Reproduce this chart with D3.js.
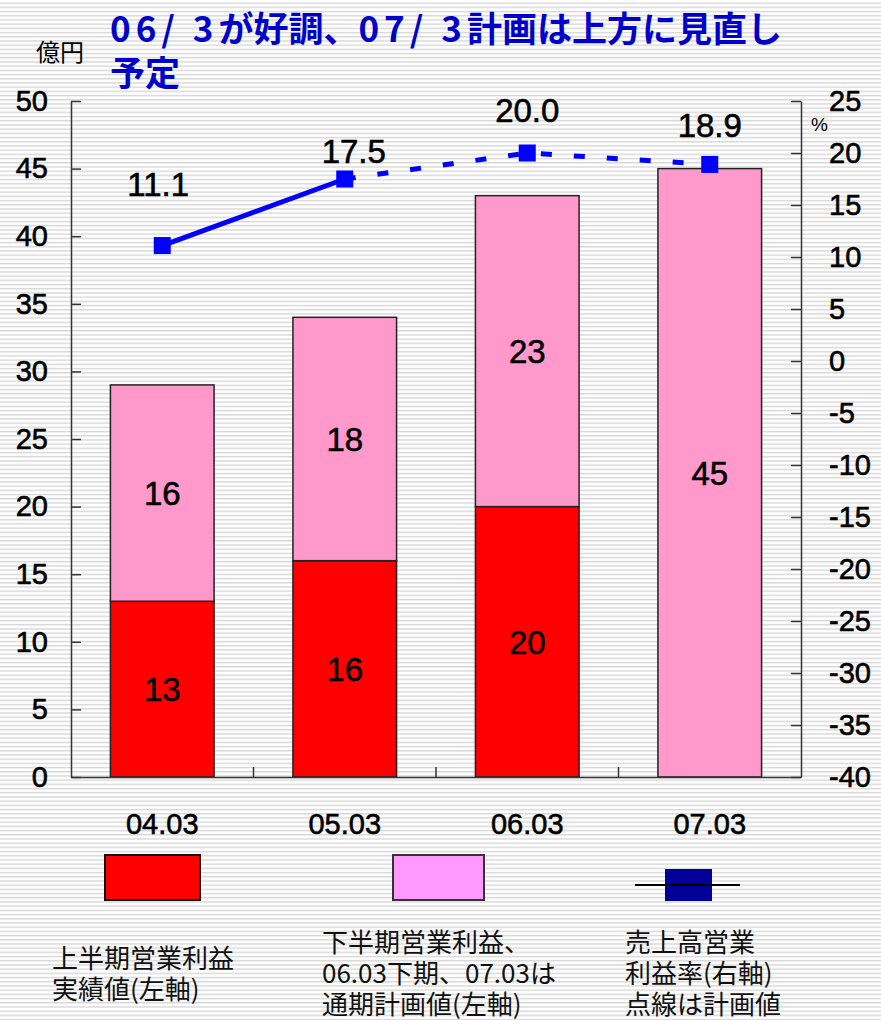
<!DOCTYPE html>
<html>
<head>
<meta charset="utf-8">
<script src="https://cdn.jsdelivr.net/npm/d3@7"></script>
<style>
  html, body { margin: 0; padding: 0; background: #fff; }
  svg { display: block; }
  text { font-family: "Liberation Sans", Arial, "Noto Sans CJK JP", sans-serif; fill: #000; }
  .num { stroke: #000; stroke-width: 0.6px; }
  .jp { font-family: "Noto Sans CJK JP", "Liberation Sans", sans-serif; }
</style>
</head>
<body>
<svg id="chart" width="881" height="1020"></svg>
<script>
// Fiscal periods (March year-end)
const categories = ["04.03", "05.03", "06.03", "07.03"];
// First-half operating profit (億円)
const firstHalf = [13, 16, 20, 0];
// Second-half operating profit; 06.03 second half and 07.03 full-year are plans
const secondHalf = [16, 18, 23, 45];
// Operating margin on sales (%), right axis
const marginRate = [11.1, 17.5, 20.0, 18.9];
const leftTicks = [0, 5, 10, 15, 20, 25, 30, 35, 40, 45, 50];
const rightTicks = [-40, -35, -30, -25, -20, -15, -10, -5, 0, 5, 10, 15, 20, 25];

const legendItems = [
  ["上半期営業利益", "実績値(左軸)"],
  ["下半期営業利益、", "06.03下期、07.03は", "通期計画値(左軸)"],
  ["売上高営業", "利益率(右軸)", "点線は計画値"]
];

const svg = d3.select("#chart");

// striped backdrop
const defs = svg.append("defs");
const pat = defs.append("pattern")
  .attr("id", "stripes").attr("patternUnits", "userSpaceOnUse")
  .attr("width", 8).attr("height", 4.2);
pat.append("rect").attr("width", 8).attr("height", 4.2).attr("fill", "#ffffff");
pat.append("rect").attr("y", 2.4).attr("width", 8).attr("height", 1.5).attr("fill", "#d9d9d9");
svg.append("rect").attr("width", 881).attr("height", 1020).attr("fill", "url(#stripes)");

const plot = { left: 71, right: 801, top: 101, bottom: 777 };

const x = d3.scaleBand().domain(categories)
  .range([plot.left, plot.right]).paddingInner(0.432).paddingOuter(0.216);
const yL = d3.scaleLinear().domain([0, 50]).range([plot.bottom, plot.top]);
const yR = d3.scaleLinear().domain([-40, 25]).range([plot.bottom, plot.top]);

// stacked bars
const rows = categories.map((c, i) => ({ cat: c, first: firstHalf[i], second: secondHalf[i] }));
const stack = d3.stack().keys(["first", "second"])(rows);
const barColors = { first: "#ff0000", second: "#ff99cc" };

stack.forEach(layer => {
  const g = svg.append("g");
  layer.forEach(seg => {
    const h = seg[1] - seg[0];
    if (h <= 0) return;
    g.append("rect")
      .attr("x", x(seg.data.cat)).attr("width", x.bandwidth())
      .attr("y", yL(seg[1])).attr("height", yL(seg[0]) - yL(seg[1]))
      .attr("fill", barColors[layer.key])
      .attr("stroke", "#222").attr("stroke-width", 1.5);
    g.append("text").attr("class", "num")
      .attr("x", x(seg.data.cat) + x.bandwidth() / 2)
      .attr("y", (yL(seg[0]) + yL(seg[1])) / 2)
      .attr("dy", "0.36em")
      .attr("text-anchor", "middle")
      .attr("font-size", 33)
      .text(h);
  });
});

// axes
const axisStyle = g => {
  g.selectAll("path.domain").attr("stroke", "#333").attr("stroke-width", 1.5);
  g.selectAll(".tick line").attr("stroke", "#333").attr("stroke-width", 1.5);
  g.selectAll(".tick text").attr("class", "num").attr("font-size", 29).attr("fill", "#000")
    .attr("font-family", "Liberation Sans, Arial, sans-serif");
};

svg.append("g").attr("transform", `translate(${plot.left},0)`)
  .call(d3.axisLeft(yL).tickValues(leftTicks).tickSizeInner(-10).tickSizeOuter(0).tickPadding(23))
  .call(axisStyle);

svg.append("g").attr("transform", `translate(${plot.right},0)`)
  .call(d3.axisRight(yR).tickValues(rightTicks).tickFormat(d => String(d))
    .tickSizeInner(-10).tickSizeOuter(0).tickPadding(28))
  .call(axisStyle);

svg.append("g").attr("transform", `translate(0,${plot.bottom})`)
  .call(d3.axisBottom(x).tickSize(0).tickPadding(36))
  .call(axisStyle);

// category separators on the baseline
const step = x.step();
categories.slice(1).forEach(c => {
  const bx = x(c) - step * x.paddingInner() / 2;
  svg.append("line").attr("x1", bx).attr("x2", bx)
    .attr("y1", plot.bottom).attr("y2", plot.bottom - 10)
    .attr("stroke", "#333").attr("stroke-width", 1.5);
});

// operating margin line: actuals solid, plans dotted
const pts = categories.map((c, i) => [x(c) + x.bandwidth() / 2, yR(marginRate[i])]);
const line = d3.line();
svg.append("path").attr("d", line(pts.slice(0, 2)))
  .attr("fill", "none").attr("stroke", "#0000ff").attr("stroke-width", 5);
svg.append("path").attr("d", line(pts.slice(1)))
  .attr("fill", "none").attr("stroke", "#0000ff").attr("stroke-width", 5)
  .attr("stroke-dasharray", "11,22");

svg.append("g").selectAll("rect").data(pts).join("rect")
  .attr("x", d => d[0] - 8.5).attr("y", d => d[1] - 8.5)
  .attr("width", 17).attr("height", 17).attr("fill", "#0000ff");

// margin labels sit above their markers
const labelShift = [[-4, 50], [9, 16], [0, 31], [0, 27]];
svg.append("g").selectAll("text").data(pts).join("text").attr("class", "num")
  .attr("x", (d, i) => d[0] + labelShift[i][0])
  .attr("y", (d, i) => d[1] - labelShift[i][1])
  .attr("text-anchor", "middle")
  .attr("font-size", 33)
  .text((d, i) => d3.format(".1f")(marginRate[i]));

// units
svg.append("text").attr("class", "jp").attr("x", 36).attr("y", 61)
  .attr("font-size", 24).text("億円");
svg.append("text").attr("x", 811).attr("y", 131)
  .attr("font-size", 19).text("%");

// headline; the numeric runs are set a little wider
const title = svg.append("text").attr("class", "jp")
  .attr("font-size", 35).attr("font-weight", "bold").style("fill", "#0000cc");
const line1 = title.append("tspan").attr("x", 110).attr("y", 42);
[["06/ 3", 5], ["が好調、", 0], ["07/ 3", 5], ["計画は上方に見直し", 0]].forEach(([s, ls]) => {
  line1.append("tspan").attr("letter-spacing", ls).text(s);
});
title.append("tspan").attr("x", 110).attr("y", 86).text("予定");

// legend swatches
svg.append("rect").attr("x", 105).attr("y", 855).attr("width", 95).attr("height", 45)
  .attr("fill", "#ff0000").attr("stroke", "#111").attr("stroke-width", 2);
svg.append("rect").attr("x", 393).attr("y", 855).attr("width", 91).attr("height", 45)
  .attr("fill", "#ff99ff").attr("stroke", "#333").attr("stroke-width", 2);
svg.append("rect").attr("x", 665).attr("y", 869).attr("width", 47).attr("height", 32)
  .attr("fill", "#000099");
svg.append("line").attr("x1", 635).attr("x2", 740).attr("y1", 885).attr("y2", 885)
  .attr("stroke", "#000").attr("stroke-width", 2);

// legend captions
const legendPos = [[52, 968], [322, 952], [625, 952]];
legendItems.forEach((lines, k) => {
  lines.forEach((s, j) => {
    svg.append("text").attr("class", "jp").attr("font-size", 26).style("fill", "#111")
      .attr("x", legendPos[k][0]).attr("y", legendPos[k][1] + j * 31).text(s);
  });
});
</script>
</body>
</html>
